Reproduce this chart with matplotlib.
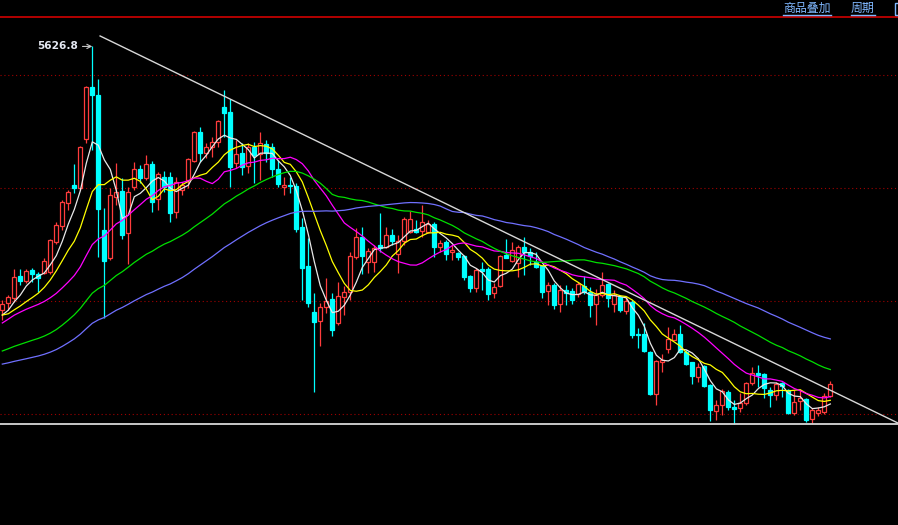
import numpy as np
import pandas as pd
import matplotlib
matplotlib.use('Agg')
import matplotlib.pyplot as plt
from matplotlib.patches import Rectangle
from matplotlib.lines import Line2D

plt.rcParams['font.family'] = ['Noto Sans CJK SC', 'DejaVu Sans']

# K线数据: 开 高 低 收
opens = [4460, 4491, 4513, 4611, 4589, 4637, 4620, 4624, 4628, 4761,
         4832, 4934, 5013, 5000, 5217, 5447, 5412, 4814, 4690, 4960,
         4987, 4801, 5005, 5084, 5044, 5106, 4951, 5049, 5049, 4894,
         4991, 5035, 5120, 5248, 5155, 5182, 5204, 5359, 5336, 5111,
         5155, 5097, 5182, 5151, 5195, 5182, 5084, 5005, 5013, 5009,
         4827, 4655, 4451, 4412, 4474, 4509, 4403, 4518, 4540, 4695,
         4783, 4673, 4673, 4748, 4739, 4792, 4708, 4766, 4805, 4819,
         4810, 4805, 4841, 4739, 4761, 4717, 4712, 4699, 4611, 4558,
         4642, 4642, 4535, 4567, 4704, 4677, 4668, 4739, 4717, 4673,
         4655, 4544, 4571, 4487, 4549, 4544, 4531, 4567, 4540, 4487,
         4527, 4575, 4487, 4518, 4456, 4496, 4354, 4354, 4274, 4089,
         4230, 4288, 4329, 4354, 4274, 4230, 4164, 4212, 4128, 4013,
         4040, 4097, 4031, 4027, 4049, 4137, 4182, 4177, 4106, 4084,
         4137, 4106, 4004, 4058, 4066, 3978, 4004, 4009, 4080]
highs = [4505, 4527, 4642, 4642, 4642, 4646, 4628, 4690, 4774, 4850,
         4947, 4991, 5106, 5186, 5451, 5626.8, 5482, 4912, 5000, 5111,
         5044, 5005, 5115, 5102, 5146, 5120, 5071, 5075, 5071, 5049,
         5027, 5133, 5252, 5270, 5199, 5226, 5301, 5434, 5394, 5213,
         5199, 5199, 5204, 5248, 5213, 5199, 5124, 5049, 5049, 5022,
         4867, 4779, 4535, 4491, 4602, 4535, 4584, 4567, 4717, 4823,
         4827, 4735, 4748, 4889, 4827, 4819, 4792, 4872, 4898, 4859,
         4925, 4859, 4850, 4770, 4770, 4748, 4717, 4704, 4615, 4646,
         4673, 4651, 4580, 4704, 4774, 4761, 4748, 4783, 4735, 4717,
         4659, 4584, 4580, 4571, 4571, 4558, 4584, 4611, 4562, 4553,
         4628, 4580, 4549, 4527, 4518, 4505, 4381, 4403, 4279, 4239,
         4267, 4385, 4376, 4394, 4283, 4230, 4226, 4217, 4133, 4062,
         4111, 4106, 4062, 4093, 4142, 4208, 4217, 4182, 4120, 4142,
         4142, 4111, 4106, 4106, 4071, 4027, 4031, 4093, 4146]
lows = [4416, 4460, 4496, 4571, 4580, 4584, 4540, 4620, 4620, 4752,
        4814, 4903, 4978, 4991, 5199, 5168, 4695, 4425, 4682, 4925,
        4774, 4664, 4991, 5022, 5035, 4894, 4903, 4982, 4850, 4867,
        4969, 5000, 5115, 5115, 5133, 5137, 5182, 5226, 5005, 5089,
        5058, 5066, 5022, 5035, 5115, 5049, 5005, 4969, 4978, 4805,
        4505, 4474, 4097, 4301, 4447, 4345, 4394, 4438, 4505, 4686,
        4620, 4624, 4628, 4717, 4735, 4748, 4624, 4748, 4801, 4801,
        4783, 4801, 4695, 4717, 4682, 4682, 4682, 4593, 4540, 4540,
        4549, 4505, 4513, 4562, 4690, 4673, 4606, 4615, 4659, 4646,
        4513, 4482, 4465, 4451, 4482, 4487, 4518, 4531, 4429, 4394,
        4518, 4474, 4451, 4451, 4443, 4336, 4292, 4274, 4084, 4040,
        4186, 4270, 4329, 4270, 4217, 4133, 4142, 4120, 3969, 3974,
        3996, 4018, 3956, 4009, 4040, 4128, 4120, 4071, 4031, 4062,
        4075, 4000, 3996, 4018, 3965, 3960, 3991, 4000, 4075]
closes = [4487, 4518, 4606, 4589, 4633, 4620, 4602, 4677, 4770, 4836,
          4938, 4982, 5000, 5182, 5447, 5412, 4907, 4677, 4969, 4982,
          4792, 4982, 5084, 5044, 5106, 4938, 5062, 5005, 4889, 5027,
          5013, 5128, 5248, 5155, 5182, 5204, 5297, 5332, 5093, 5151,
          5093, 5182, 5146, 5199, 5155, 5084, 5018, 5013, 5009, 4819,
          4646, 4491, 4407, 4474, 4500, 4372, 4522, 4540, 4699, 4783,
          4699, 4721, 4735, 4735, 4792, 4766, 4766, 4863, 4863, 4805,
          4850, 4841, 4739, 4757, 4708, 4726, 4695, 4606, 4558, 4637,
          4633, 4531, 4562, 4699, 4690, 4726, 4739, 4717, 4699, 4651,
          4540, 4571, 4482, 4549, 4535, 4505, 4575, 4540, 4482, 4527,
          4571, 4513, 4527, 4460, 4500, 4350, 4350, 4279, 4089, 4235,
          4239, 4332, 4354, 4274, 4221, 4168, 4208, 4124, 4018, 4040,
          4102, 4031, 4022, 4049, 4137, 4182, 4173, 4115, 4084, 4133,
          4124, 4004, 4053, 4071, 3974, 4018, 4018, 4080, 4133]

# 画面左侧之前的收盘价(估计), 只用于均线起算
warmup_closes = [4180, 4210, 4250, 4280, 4260, 4230, 4220, 4210,
                 4150, 4080, 4020, 3980, 3950, 3960, 3990, 4010, 4030, 4010, 4020, 4060,
                 4120, 4180, 4230, 4260, 4280, 4270, 4260, 4255,
                 4200, 4150, 4100, 4060, 4050, 4070, 4090, 4100, 4110, 4100, 4100, 4115,
                 4180, 4250, 4320, 4380, 4400, 4390, 4420, 4440, 4450, 4450,
                 4460, 4430, 4420, 4440, 4440,
                 4410, 4420, 4440, 4433]

ma_periods = [5, 10, 20, 40, 60]
ma_colors = ['#e8e8e8', '#ffff00', '#ff00ff', '#00e000', '#7070ff']

peak_label = '5626.8'
peak_idx = 15
trend_x = [16.3, 149.6]
trend_y = [5673, 3956]
support_level = 3956
grid_levels = [5500, 5000, 4500, 4000]
menu_items = ['商品叠加', '周期']

W, H = 898, 525
fig = plt.figure(figsize=(W / 100, H / 100), dpi=100, facecolor='black')
ax = fig.add_axes([0, 0, 1, 1 - 17 / H])
ax.set_facecolor('black')
ax.set_xlim(-0.383, 149.28)
ax.set_ylim(3509, 5757)
ax.set_xticks([]), ax.set_yticks([])
for s in ['left', 'right', 'bottom']:
    ax.spines[s].set_visible(False)
ax.spines['top'].set_color('#d00000')
ax.spines['top'].set_linewidth(1.2)

for lv in grid_levels:
    ax.axhline(lv, color='#a00000', lw=0.8, ls=(0, (1, 2.5)), zorder=1)

n = len(closes)
bw = 0.72
for i in range(n):
    o, h, l, c = opens[i], highs[i], lows[i], closes[i]
    if c >= o:
        col = '#ff3c3c'
        ax.vlines(i, c, h, color=col, lw=0.9, zorder=2)
        ax.vlines(i, l, o, color=col, lw=0.9, zorder=2)
        ax.add_patch(Rectangle((i - bw / 2, o), bw, max(c - o, 2), facecolor='black',
                               edgecolor=col, lw=0.9, zorder=2))
    else:
        col = '#00ffff'
        ax.vlines(i, l, h, color=col, lw=0.9, zorder=2)
        ax.add_patch(Rectangle((i - bw / 2, c), bw, max(o - c, 2), facecolor=col,
                               edgecolor=col, lw=0.9, zorder=2))

# 均线
all_close = pd.Series(warmup_closes + closes, dtype=float)
for p, col in zip(ma_periods, ma_colors):
    ma = all_close.rolling(p).mean().to_numpy()[-n:]
    ax.plot(np.arange(n), ma, color=col, lw=0.9, zorder=3)

# 压力线和支撑线
ax.plot(trend_x, trend_y, color='#d8d8d8', lw=1.0, zorder=4)
ax.axhline(support_level, color='#d8d8d8', lw=1.3, zorder=4)

ax.annotate(peak_label, xy=(peak_idx, highs[peak_idx]), xytext=(-14, 0),
            textcoords='offset pixels', ha='right', va='center',
            color='#e4e8f2', fontsize=7.6, fontweight='bold', family='DejaVu Sans',
            arrowprops=dict(arrowstyle='->', color='#c8c8c8', lw=0.8,
                            shrinkA=1, shrinkB=0))

# 右上角菜单
menu_x = [783, 851]
for txt, x0 in zip(menu_items, menu_x):
    t = fig.text(x0 / W, 1 - 8.5 / H, txt, color='#80b8ff', fontsize=8.6,
                 ha='left', va='center')
    fig.canvas.draw()
    bb = t.get_window_extent()
    fig.add_artist(Line2D([bb.x0 / W, bb.x1 / W], [1 - 15 / H, 1 - 15 / H],
                          color='#80b8ff', lw=1, transform=fig.transFigure))
fig.add_artist(Rectangle((895 / W, 1 - 15 / H), 10 / W, 12 / H, transform=fig.transFigure,
                         facecolor='none', edgecolor='#80b8ff', lw=1))

fig.savefig('out.png', dpi=100, facecolor='black')
